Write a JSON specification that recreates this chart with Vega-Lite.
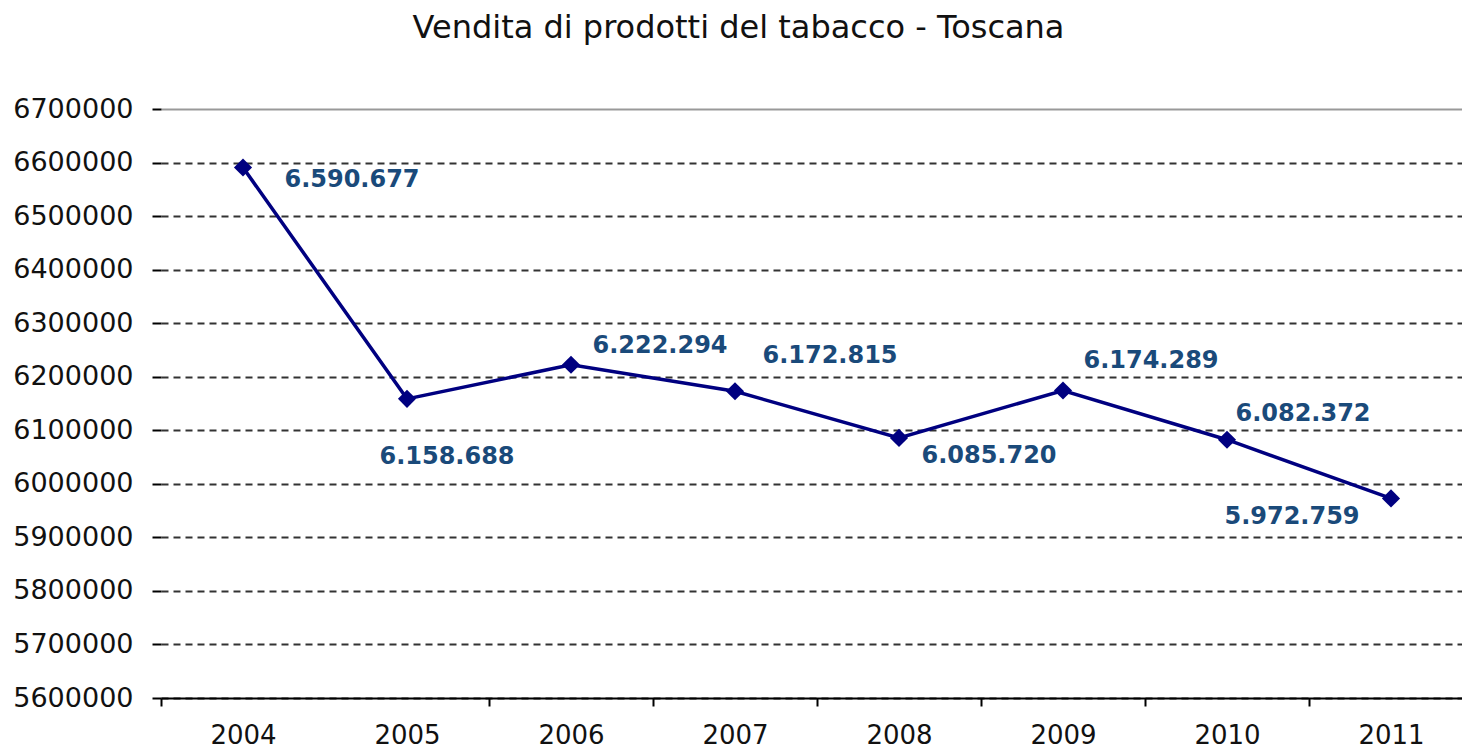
{
  "$schema": "https://vega.github.io/schema/vega-lite/v6.json",
  "width": 1301,
  "height": 589,
  "autosize": {"type": "none"},
  "padding": {"left": 161, "top": 109, "right": 0, "bottom": 51},
  "background": "white",
  "config": {
    "view": {"stroke": null},
    "locale": {"number": {"decimal": ",", "thousands": ".", "grouping": [3], "currency": ["€", ""]}}
  },
  "title": {
    "text": "Vendita di prodotti del tabacco - Toscana",
    "font": "DejaVu Sans",
    "fontSize": 32,
    "fontWeight": "normal",
    "color": "#111111",
    "anchor": "middle",
    "dx": -73,
    "offset": 50
  },
  "data": {
    "values": [
      {"anno": "2004", "vendite": 6590677},
      {"anno": "2005", "vendite": 6158688},
      {"anno": "2006", "vendite": 6222294},
      {"anno": "2007", "vendite": 6172815},
      {"anno": "2008", "vendite": 6085720},
      {"anno": "2009", "vendite": 6174289},
      {"anno": "2010", "vendite": 6082372},
      {"anno": "2011", "vendite": 5972759}
    ]
  },
  "encoding": {
    "x": {
      "field": "anno",
      "type": "ordinal",
      "bandPosition": 0.5,
      "scale": {"type": "band", "range": [0, 1312], "paddingInner": 0, "paddingOuter": 0},
      "axis": {
        "title": null,
        "labelAngle": 0,
        "tickBand": "extent",
        "tickExtra": false,
        "grid": false,
        "domainColor": "#000000",
        "domainWidth": 2,
        "tickColor": {"condition": {"test": "datum.label == '2004'", "value": "transparent"}, "value": "#000000"},
        "tickWidth": 2,
        "tickSize": 8,
        "labelFont": "DejaVu Sans",
        "labelFontSize": 26,
        "labelColor": "#111111",
        "labelPadding": 16
      }
    },
    "y": {
      "field": "vendite",
      "type": "quantitative",
      "scale": {"domain": [5600000, 6700000], "nice": false, "zero": false},
      "axis": {
        "title": null,
        "values": [5600000, 5700000, 5800000, 5900000, 6000000, 6100000, 6200000, 6300000, 6400000, 6500000, 6600000, 6700000],
        "format": "d",
        "domain": false,
        "ticks": true,
        "tickSize": 9,
        "tickColor": "#000000",
        "tickWidth": 2,
        "grid": true,
        "gridWidth": 2,
        "gridColor": {"condition": {"test": "datum.value == 6700000", "value": "#999999"}, "value": "#333333"},
        "gridDash": {"condition": {"test": "datum.value == 6700000", "value": []}, "value": [7, 5]},
        "labelFont": "DejaVu Sans",
        "labelFontSize": 27,
        "labelColor": "#111111",
        "labelPadding": 19
      }
    }
  },
  "layer": [
    {"mark": {"type": "line", "color": "#000080", "strokeWidth": 3.5}},
    {"mark": {"type": "point", "shape": "diamond", "filled": true, "size": 330, "color": "#000080", "opacity": 1}},
    {
      "transform": [{"filter": "datum.anno == '2004'"}],
      "mark": {"type": "text", "font": "DejaVu Sans", "fontSize": 24, "fontWeight": "bold", "color": "#1a4a7a", "dx": 109, "dy": 12},
      "encoding": {"text": {"field": "vendite", "type": "quantitative", "format": ",d"}}
    },
    {
      "transform": [{"filter": "datum.anno == '2005'"}],
      "mark": {"type": "text", "font": "DejaVu Sans", "fontSize": 24, "fontWeight": "bold", "color": "#1a4a7a", "dx": 40, "dy": 58},
      "encoding": {"text": {"field": "vendite", "type": "quantitative", "format": ",d"}}
    },
    {
      "transform": [{"filter": "datum.anno == '2006'"}],
      "mark": {"type": "text", "font": "DejaVu Sans", "fontSize": 24, "fontWeight": "bold", "color": "#1a4a7a", "dx": 89, "dy": -19},
      "encoding": {"text": {"field": "vendite", "type": "quantitative", "format": ",d"}}
    },
    {
      "transform": [{"filter": "datum.anno == '2007'"}],
      "mark": {"type": "text", "font": "DejaVu Sans", "fontSize": 24, "fontWeight": "bold", "color": "#1a4a7a", "dx": 95, "dy": -35},
      "encoding": {"text": {"field": "vendite", "type": "quantitative", "format": ",d"}}
    },
    {
      "transform": [{"filter": "datum.anno == '2008'"}],
      "mark": {"type": "text", "font": "DejaVu Sans", "fontSize": 24, "fontWeight": "bold", "color": "#1a4a7a", "dx": 90, "dy": 18},
      "encoding": {"text": {"field": "vendite", "type": "quantitative", "format": ",d"}}
    },
    {
      "transform": [{"filter": "datum.anno == '2009'"}],
      "mark": {"type": "text", "font": "DejaVu Sans", "fontSize": 24, "fontWeight": "bold", "color": "#1a4a7a", "dx": 88, "dy": -29},
      "encoding": {"text": {"field": "vendite", "type": "quantitative", "format": ",d"}}
    },
    {
      "transform": [{"filter": "datum.anno == '2010'"}],
      "mark": {"type": "text", "font": "DejaVu Sans", "fontSize": 24, "fontWeight": "bold", "color": "#1a4a7a", "dx": 76, "dy": -26},
      "encoding": {"text": {"field": "vendite", "type": "quantitative", "format": ",d"}}
    },
    {
      "transform": [{"filter": "datum.anno == '2011'"}],
      "mark": {"type": "text", "font": "DejaVu Sans", "fontSize": 24, "fontWeight": "bold", "color": "#1a4a7a", "dx": -99, "dy": 19},
      "encoding": {"text": {"field": "vendite", "type": "quantitative", "format": ",d"}}
    }
  ]
}
